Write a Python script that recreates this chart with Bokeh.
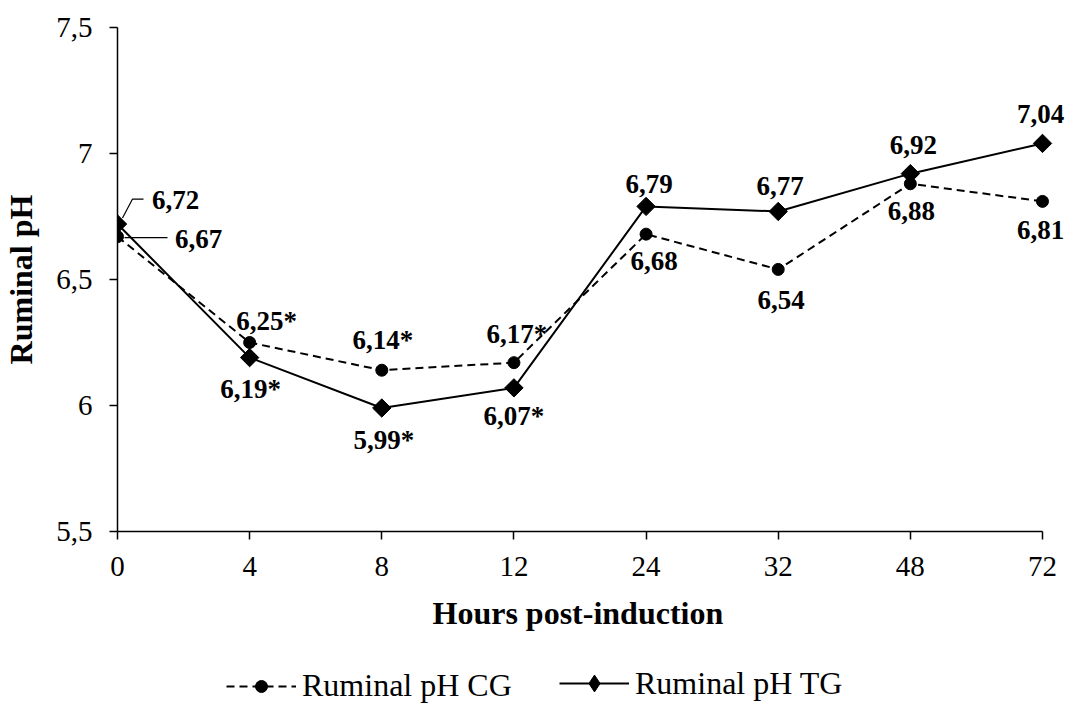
import math
from bokeh.plotting import figure
from bokeh.layouts import column
from bokeh.models import (Range1d, FixedTicker, CustomJSTickFormatter, Legend,
                          LegendItem, ColumnDataSource, Title)
from bokeh.core.properties import value
from bokeh.embed import file_html
from bokeh.resources import INLINE

# ---- data ----
hours = ["0", "4", "8", "12", "24", "32", "48", "72"]
ph_cg = [6.67, 6.25, 6.14, 6.17, 6.68, 6.54, 6.88, 6.81]
ph_tg = [6.72, 6.19, 5.99, 6.07, 6.79, 6.77, 6.92, 7.04]
sig_cg = [False, True, True, True, False, False, False, False]
sig_tg = [False, True, True, True, False, False, False, False]
y_ticks = [5.5, 6, 6.5, 7, 7.5]
series_names = ["Ruminal pH CG", "Ruminal pH TG"]
x_title = "Hours post-induction"
y_title = "Ruminal pH"

# ---- label placement (screen px, +y is down) ----
cg_dx = [81, 17, 1, 3, 8, 3, 1, -2]
cg_dy = [2, -22, -30, -29, 27, 31, 27, 29]
tg_dx = [58, 1, 2, 0, 3, 2, 3, -2]
tg_dy = [-24, 31, 32, 28, -22, -25, -29, -29]

FONT = "Liberation Serif"
W, H = 1067, 644
BL, BT, BB = 117, 27, 113
AXIS_W = 925          # pixel length of the x axis (first to last category)

x = list(range(len(hours)))
n = len(hours) - 1
x_end = n * (W - BL) / AXIS_W


def fmt(v, s):
    return f"{v:.2f}".replace(".", ",") + ("*" if s else "")


p = figure(width=W, height=H, output_backend="svg", toolbar_location=None,
           x_range=Range1d(0, x_end), y_range=Range1d(5.5, 7.5),
           min_border_left=BL, min_border_right=0, min_border_top=BT,
           min_border_bottom=BB)
p.outline_line_color = None
p.xgrid.visible = False
p.ygrid.visible = False

# px -> data conversions for leader lines
fh = H - BT - BB
px_x = n / AXIS_W
px_y = 2.0 / fh

# axes
p.xaxis.ticker = FixedTicker(ticks=x)
p.xaxis.bounds = (0, n)
p.xaxis.formatter = CustomJSTickFormatter(args=dict(labels=hours),
                                          code="return labels[Math.round(tick)];")
p.yaxis.ticker = FixedTicker(ticks=y_ticks)
p.yaxis.formatter = CustomJSTickFormatter(code="return tick.toString().replace('.', ',');")
p.yaxis.axis_label = y_title
for ax in (p.xaxis[0], p.yaxis[0]):
    ax.axis_line_color = "black"
    ax.axis_line_width = 1.5
    ax.major_tick_line_color = "black"
    ax.major_tick_line_width = 1.5
    ax.major_tick_out = 8
    ax.major_tick_in = 0
    ax.minor_tick_line_color = None
    ax.major_label_text_font = FONT
    ax.major_label_text_font_size = "29px"
    ax.major_label_text_color = "black"
    ax.axis_label_text_font = FONT
    ax.axis_label_text_font_size = "32px"
    ax.axis_label_text_font_style = "bold"
    ax.axis_label_text_color = "black"
p.xaxis.major_label_standoff = 17
p.yaxis.major_label_standoff = 17
p.yaxis.axis_label_standoff = 14

# x axis title, centred under the axis line itself (not under the label overhang)
p.add_layout(Title(text=x_title, align="left", offset=315, standoff=28,
                   text_font=FONT, text_font_size="32px", text_font_style="bold",
                   text_color="black"), "below")

# series
src_cg = ColumnDataSource(dict(x=x, y=ph_cg,
                               lbl=[fmt(v, s) for v, s in zip(ph_cg, sig_cg)],
                               dx=cg_dx, dy=cg_dy))
src_tg = ColumnDataSource(dict(x=x, y=ph_tg,
                               lbl=[fmt(v, s) for v, s in zip(ph_tg, sig_tg)],
                               dx=tg_dx, dy=tg_dy))

CG_LINE = dict(line_color="black", line_width=2, line_dash="8 5")
CG_PTS = dict(marker="circle", size=12, fill_color="black", line_color="black")
TG_LINE = dict(line_color="black", line_width=2)
TG_PTS = dict(marker="square", size=13, angle=math.pi / 4,
              fill_color="black", line_color="black")

p.line("x", "y", source=src_cg, **CG_LINE)
p.scatter("x", "y", source=src_cg, **CG_PTS)
p.line("x", "y", source=src_tg, **TG_LINE)
p.scatter("x", "y", source=src_tg, **TG_PTS)

# leader lines for the first point of each series
lx = [[x[0] + 5 * px_x, x[0] + 15 * px_x, x[0] + 26 * px_x],
      [x[0] + 7 * px_x, x[0] + 50 * px_x]]
ly = [[ph_tg[0] + 6 * px_y, ph_tg[0] + 25 * px_y, ph_tg[0] + 25 * px_y],
      [ph_cg[0] - 1 * px_y, ph_cg[0] - 1 * px_y]]
p.multi_line(lx, ly, line_color="black", line_width=1.2)

for src in (src_cg, src_tg):
    p.text("x", "y", text="lbl", source=src, x_offset="dx", y_offset="dy",
           text_font=value(FONT), text_font_size="27px", text_font_style="bold",
           text_align="center", text_baseline="middle", text_color="black")

# ---- legend strip below the chart ----
lg = figure(width=W, height=704 - H, output_backend="svg", toolbar_location=None,
            x_range=Range1d(0, 1), y_range=Range1d(0, 1),
            x_axis_type=None, y_axis_type=None,
            min_border_left=0, min_border_right=0, min_border_top=0,
            min_border_bottom=0)
lg.outline_line_color = None
lg.xgrid.visible = False
lg.ygrid.visible = False
# same series, outside this strip's visible range: they only feed the legend keys
l_cg = lg.line("x", "y", source=src_cg, **CG_LINE)
s_cg = lg.scatter("x", "y", source=src_cg, **CG_PTS)
l_tg = lg.line("x", "y", source=src_tg, **TG_LINE)
s_tg = lg.scatter("x", "y", source=src_tg, marker="diamond", size=13,
                  fill_color="black", line_color="black")

LEG = dict(orientation="horizontal", glyph_width=70, label_standoff=6,
           padding=0, margin=0, border_line_color=None, background_fill_alpha=0,
           label_text_font=FONT, label_text_font_size="32px",
           label_text_color="black")
lg.add_layout(Legend(items=[LegendItem(label=series_names[0], renderers=[l_cg, s_cg])],
                     location=(109, 0), glyph_height=30, **LEG))
lg.add_layout(Legend(items=[LegendItem(label=series_names[1], renderers=[l_tg, s_tg])],
                     location=(442, 0), glyph_height=42, **LEG))

page = column(p, lg, spacing=0)
open("out.html", "w").write(file_html(page, INLINE))
